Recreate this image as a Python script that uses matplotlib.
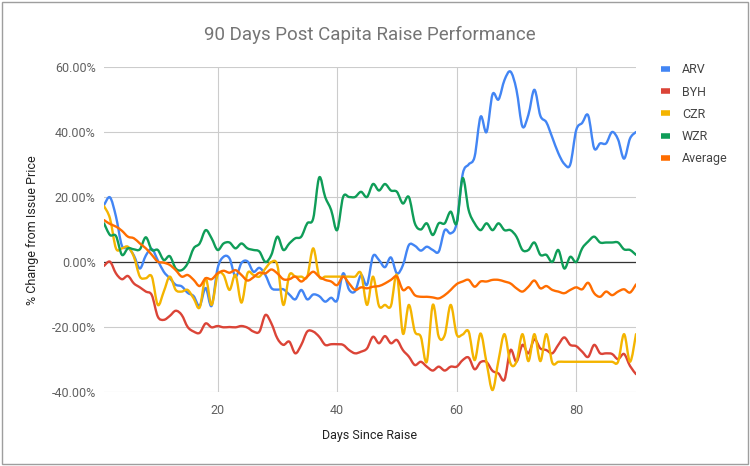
"""
90 days post capital raise performance, Google-Sheets-style line chart.
"""
import numpy as np
import matplotlib
matplotlib.use("Agg")
import matplotlib.pyplot as plt
from matplotlib.path import Path
from matplotlib.patches import PathPatch, Rectangle
from matplotlib.lines import Line2D
from matplotlib.ticker import FuncFormatter

plt.rcParams["font.family"] = ["Roboto", "DejaVu Sans"]

# ---------- data (percent change from issue price, days 1..90) ----------
days = list(range(1, 91))

arv = [17.5, 19.9, 14, 5, 4.5, 2, -2, 2, 4, 0.5,
       -3, -5, -7, -7.5, -9.5, -10.5, -13.5, -8, -13.5, -2,
       1.6, 1.1, -4.5, -0.3, 0.2, -3, -1.8, -4, -8, -8.5,
       -8.4, -10, -11.5, -8.6, -11.5, -10, -10.5, -12.2, -11, -11.8,
       -3.5, -8.5, -9, -4, -7, 1.8, 0.6, -1.6, 1.4, -3.5,
       -1, 5.2, 5, 3.5, 4.7, 3.7, 3.2, 9.8, 8.8, 12,
       27, 30, 32.4, 44.7, 40, 51.6, 50, 56, 58.6, 53,
       41.7, 45.3, 53, 45, 43, 38.3, 33.5, 30.2, 30, 40.6,
       42.8, 45.1, 35, 36.5, 36.5, 40, 37.7, 31.8, 38, 40]

byh = [-1.2, 0.1, -3.5, -5.3, -4.3, -6.6, -7.8, -9.1, -10.2, -16.8,
       -17.8, -16.6, -15, -16.3, -20, -21.4, -21.8, -18.9, -20.1, -19.7,
       -20.1, -20, -20.1, -19.7, -20.2, -21.4, -21.4, -16.3, -18.9, -23.5,
       -25.5, -24.5, -28.1, -25.5, -21.4, -21.4, -23, -25.5, -25.3, -25.3,
       -25.5, -27.1, -28.1, -27.6, -26.6, -23, -25, -22.8, -25, -24,
       -27.1, -29.1, -31.7, -30.7, -32.2, -33.4, -32.2, -33.4, -32.2, -32.2,
       -30.2, -29.4, -33, -30.8, -30.8, -33.5, -34.3, -36.2, -27.1, -30.7,
       -25.5, -28.1, -23.8, -26.6, -27.1, -28.1, -25.5, -23.2, -25.5, -25.9,
       -27.6, -29.2, -25.5, -28.1, -28.1, -28.3, -29.9, -28.3, -32, -34.5]

czr = [17.2, 13.4, 4.2, 4.2, 4.7, 1.6, -4.5, -5, -4.5, -13.2,
       -9.1, -4.5, -8.6, -9.1, -8.6, -11.2, -14, -5, -13.2, -4,
       -4, -8.6, -4, -12.5, -3.5, -4, -4.5, -2, 0, -1,
       -13.2, -4, -4.5, -4.5, -4.5, 4.2, -4.5, -4.5, -4.5, -4.5,
       -4.5, -4.5, -4.5, -3.5, -13.2, -4.5, -13.5, -13.2, -13.5, -4,
       -22, -13.2, -21.4, -23, -30.7, -13.2, -23, -22.5, -13.2, -22.3,
       -22.3, -21.4, -30.2, -22, -31, -39.4, -30.2, -22.2, -31.2, -30.7,
       -22.2, -30.5, -22.2, -30.5, -22.2, -31, -30.7, -30.7, -30.7, -30.7,
       -30.7, -30.7, -30.7, -30.7, -30.7, -30.7, -30.7, -22.2, -30.7, -22.2]

wzr = [11.9, 8.3, 8, 2.2, 4.2, 3.9, 3.9, 7.6, 3.7, 3.7,
       0.6, 1.8, -2, -2.5, -0.4, 4.2, 5.7, 9.8, 7.3, 3.7,
       5.7, 6, 4.2, 5.7, 4.2, 3.7, 3.2, 0, 2.2, 7.8,
       3.7, 5.7, 7.3, 7.8, 11.9, 13.4, 26, 20, 16, 9.8,
       20, 20, 20, 21.6, 20, 24, 22, 24, 22, 21.6,
       18, 20, 11.9, 10, 11.9, 8.3, 11.9, 11.9, 15.5, 11.9,
       25.8, 16, 11.9, 9.8, 11.9, 9.8, 11.9, 9.8, 9.8, 7.8,
       3.7, 3.7, 6, 2.2, 2.2, 0, 3.7, -2, 1.6, 0,
       4.2, 6.3, 7.8, 6, 6, 6, 6, 3.9, 3.7, 2.2]

average = [12.9, 11.7, 10.9, 9.6, 7.8, 7.3, 5.7, 4.2, 2.2, 0.1,
           -0.2, -0.9, -2.5, -4.5, -4, -5.5, -7.4, -5, -5.3, -3.5,
           -2.7, -3.3, -2.5, -4, -5.7, -4.7, -3.3, -3.5, -2.3, -3.5,
           -5.3, -5.3, -4.5, -6, -4.5, -3, -4.5, -5.5, -6, -7.1,
           -4.5, -6.6, -8.6, -7.8, -8.1, -7.6, -7.4, -6.6, -5.5, -4.5,
           -8.6, -7.8, -10.2, -10.7, -10.7, -10.9, -11.2, -10.2, -8.6, -6.8,
           -6, -5.5, -7.6, -6, -6, -5.5, -5.5, -6, -6.6, -8.1,
           -9.1, -7.6, -5.7, -8.1, -7.4, -8.6, -9.1, -9.6, -8.6, -7.8,
           -8.4, -6.4, -9.6, -10.7, -9.1, -10.2, -9.1, -8.4, -9.4, -6.9]

series = ["ARV", "BYH", "CZR", "WZR", "Average"]
values = [arv, byh, czr, wzr, average]
colors = ["#4285F4", "#DB4437", "#F4B400", "#0F9D58", "#FF6D00"]

y_ticks = [-40, -20, 0, 20, 40, 60]
x_ticks = [20, 40, 60, 80]


def smooth_path(x, y, k=1 / 6):
    """Catmull-Rom style bezier through the data points (like curveType=function)."""
    pts = np.column_stack([x, y]).astype(float)
    n = len(pts)
    verts = [pts[0]]
    codes = [Path.MOVETO]
    for i in range(n - 1):
        p0 = pts[max(i - 1, 0)]
        p1 = pts[i]
        p2 = pts[i + 1]
        p3 = pts[min(i + 2, n - 1)]
        verts += [p1 + (p2 - p0) * k, p2 - (p3 - p1) * k, p2]
        codes += [Path.CURVE4] * 3
    return Path(verts, codes)


W, H = 750, 466
fig = plt.figure(figsize=(W / 100, H / 100), dpi=100)
ax = fig.add_axes([104 / W, 1 - 392 / H, (636 - 104) / W, (392 - 67) / H])

for name, vals, col in zip(series, values, colors):
    patch = PathPatch(smooth_path(days, vals), fill=False, edgecolor=col,
                      lw=1.7, capstyle="round", joinstyle="round", zorder=3)
    ax.add_patch(patch)

ax.set_xlim(1, 90)
ax.set_ylim(-40, 60)
ax.set_xticks(x_ticks)
ax.set_yticks(y_ticks)
ax.yaxis.set_major_formatter(FuncFormatter(lambda v, _: f"{v:.2f}%"))
ax.grid(True, color="#cccccc", lw=0.8)
ax.set_axisbelow(True)
ax.axhline(0, color="#333333", lw=0.9, zorder=2)
for s in ax.spines.values():
    s.set_visible(False)
ax.tick_params(length=0, labelsize=9, colors="#616161", pad=6)
ax.tick_params(axis="x", pad=9)

fig.text(370 / W, 1 - 35 / H, "90 Days Post Capita Raise Performance",
         ha="center", va="center", fontsize=13.5, color="#757575")
fig.text(370 / W, 1 - 435 / H, "Days Since Raise", ha="center", va="center",
         fontsize=9, color="#222222")
fig.text(33 / W, 1 - 230 / H, "% Change from Issue Price", ha="center",
         va="center", rotation=90, fontsize=9, color="#222222")

handles = [Line2D([], [], color=c, lw=4, solid_capstyle="butt") for c in colors]
leg = fig.legend(handles, series, loc="upper left",
                 bbox_to_anchor=(650 / W, 1 - 52 / H), frameon=False,
                 fontsize=9, handlelength=0.7, handletextpad=0.95,
                 labelspacing=0.74)
for t in leg.get_texts():
    t.set_color("#444444")

# sheet chart border
fig.patches.append(Rectangle((2 / W, 2 / H), 746 / W, 462 / H, fill=False,
                             edgecolor="#9e9e9e", lw=1, transform=fig.transFigure))

fig.savefig("out.png", dpi=100)
